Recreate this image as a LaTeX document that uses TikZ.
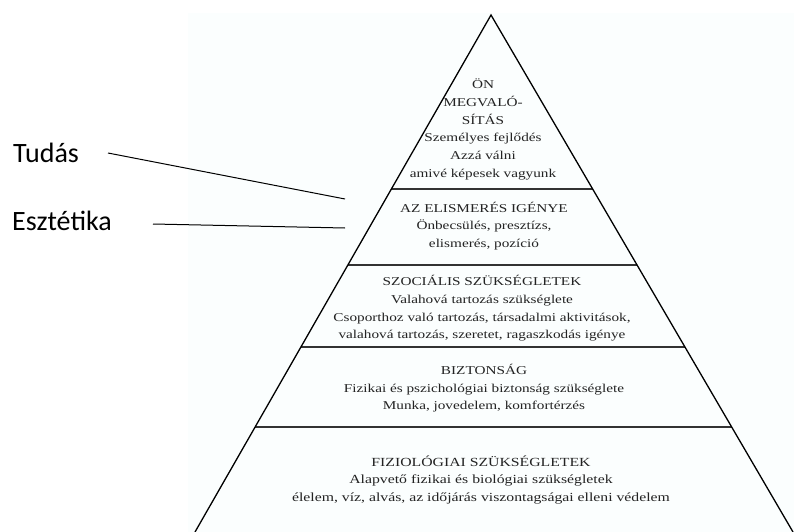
\documentclass[tikz,border=0pt]{standalone}
\usepackage{fontspec}
\setmainfont{Liberation Serif}[FakeStretch=1.27]
\newfontfamily\labelfont{Carlito}
\usetikzlibrary{calc}
\definecolor{bgtint}{RGB}{251,254,254}
\definecolor{txtgray}{RGB}{35,35,35}
\tikzset{
  edge/.style={line width=1.3pt, black, line join=miter},
  divider/.style={line width=1.8pt, black!80},
  layertext/.style={align=center, text=txtgray, inner sep=0pt,
    font=\fontsize{12}{17.6}\selectfont},
  sidelabel/.style={anchor=west, inner sep=0pt, text=black,
    font=\labelfont\fontsize{28}{32}\selectfont},
  pointer/.style={line width=1pt, black}
}
\begin{document}
\begin{tikzpicture}[x=1pt,y=-1pt]
\useasboundingbox (0,0) rectangle (794,532);
\fill[white] (0,0) rectangle (794,532);
\fill[bgtint] (188,13) rectangle (794,532);
% pyramid corners
\coordinate (A) at (491,15);
\coordinate (BL) at (195,532);
\coordinate (BR) at (793,532);
% dividers
\foreach \t/\n in {0.3366/1,0.4836/2,0.6422/3,0.7969/4}{
  \coordinate (L\n) at ($(A)!\t!(BL)$);
  \coordinate (R\n) at ($(A)!\t!(BR)$);
}
\foreach \n in {1,2,3,4}{ \draw[divider] (L\n) -- (R\n); }
\draw[edge] (BL) -- (A) -- (BR);
% texts
\node[layertext, font=\fontsize{12}{17.8}\selectfont] (self) at (483,129.5) {ÖN\\MEGVALÓ-\\SÍTÁS\\Személyes fejlődés\\Azzá válni\\amivé képesek vagyunk};
\node[layertext] (esteem) at (484,226) {AZ ELISMERÉS IGÉNYE\\Önbecsülés, presztízs,\\elismerés, pozíció};
\node[layertext] (social) at (482,308.5) {SZOCIÁLIS SZÜKSÉGLETEK\\Valahová tartozás szükséglete\\Csoporthoz való tartozás, társadalmi aktivitások,\\valahová tartozás, szeretet, ragaszkodás igénye};
\node[layertext] (safety) at (484,388.5) {BIZTONSÁG\\Fizikai és pszichológiai biztonság szükséglete\\Munka, jovedelem, komfortérzés};
\node[layertext, font=\fontsize{12.4}{17.6}\selectfont] (phys) at (481,480) {FIZIOLÓGIAI SZÜKSÉGLETEK\\Alapvető fizikai és biológiai szükségletek\\élelem, víz, alvás, az időjárás viszontagságai elleni védelem};
% side labels
\node[sidelabel] (tudas) at (13,153) {Tudás};
\node[sidelabel] (esztetika) at (12,221) {Esztétika};
\coordinate (t1) at (108,153);
\coordinate (t2) at (345,199);
\coordinate (e1) at (153,224);
\coordinate (e2) at (345,228);
\draw[pointer] (t1) -- (t2);
\draw[pointer] (e1) -- (e2);
\end{tikzpicture}
\end{document}
